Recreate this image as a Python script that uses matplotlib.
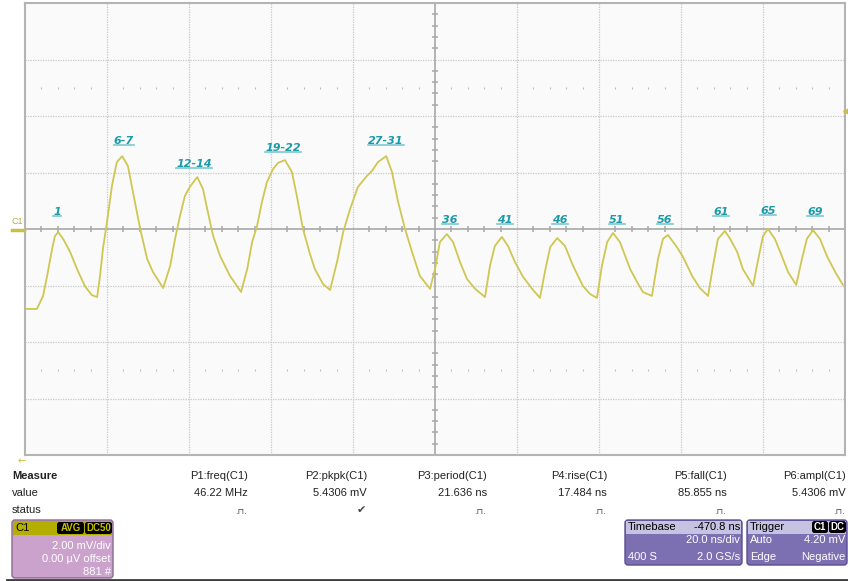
import numpy as np
import matplotlib
matplotlib.use('Agg')
from matplotlib import pyplot as plt
from matplotlib import patches, transforms
from matplotlib.lines import Line2D

W, H = 848, 581

# screen time (ns, 20 ns/div) and C1 voltage (mV, 2 mV/div)
trace_t = [0.0, 2.9, 4.4, 5.4, 6.6, 7.3, 8.1, 9.3, 11.0, 12.7, 14.6, 16.3, 17.6,
           18.3, 19.0, 20.0, 21.2, 22.4, 23.7, 25.1, 26.8, 28.1, 29.8, 31.2, 33.7,
           35.4, 36.6, 37.8, 39.0, 40.2, 42.0, 43.4, 44.6, 45.9, 47.6, 50.0, 52.7,
           54.2, 55.4, 56.6, 57.8, 59.0, 60.5, 61.7, 63.4, 65.1, 66.3, 67.8, 69.5,
           70.7, 72.7, 74.4, 76.1, 77.6, 79.3, 81.2, 83.4, 84.6, 86.1, 88.1, 89.5,
           91.0, 92.7, 94.4, 96.3, 98.8, 100.0, 101.2, 102.9, 104.4, 106.1, 107.8,
           109.8, 112.2, 113.4, 114.6, 116.3, 117.8, 119.5, 121.5, 123.7, 125.6,
           126.8, 128.1, 129.8, 131.7, 133.7, 136.1, 137.8, 139.5, 140.7, 142.0,
           143.4, 145.1, 147.6, 149.3, 150.7, 152.9, 154.4, 155.6, 156.8, 159.0,
           160.5, 162.7, 164.6, 166.6, 167.8, 169.0, 170.7, 172.0, 173.7, 175.1,
           177.6, 178.5, 180.0, 181.2, 182.9, 184.6, 186.1, 188.1, 189.5, 190.7,
           192.2, 193.9, 195.6, 197.6, 199.5]
trace_mv = [-2.83, -2.83, -2.37, -1.66, -0.71, -0.25, -0.11, -0.35, -0.81, -1.42,
            -2.02, -2.34, -2.41, -1.66, -0.71, 0.25, 1.52, 2.37, 2.58, 2.23, 0.96,
            0.0, -1.06, -1.52, -2.09, -1.31, -0.35, 0.46, 1.17, 1.49, 1.84, 1.42,
            0.60, -0.25, -0.96, -1.66, -2.23, -1.42, -0.46, 0.11, 0.96, 1.66, 2.12,
            2.34, 2.44, 2.02, 1.17, 0.0, -0.88, -1.42, -1.95, -2.16, -1.17, -0.11,
            0.71, 1.49, 1.88, 2.05, 2.37, 2.58, 2.02, 0.96, 0.0, -0.81, -1.66,
            -2.12, -1.42, -0.46, -0.18, -0.46, -1.17, -1.77, -2.12, -2.41, -1.31,
            -0.60, -0.28, -0.60, -1.17, -1.70, -2.12, -2.44, -1.52, -0.64, -0.32,
            -0.60, -1.31, -2.02, -2.30, -2.44, -1.31, -0.46, -0.14, -0.46, -1.42,
            -1.88, -2.23, -2.37, -1.06, -0.35, -0.21, -0.64, -0.99, -1.66, -2.09,
            -2.37, -1.31, -0.35, -0.07, -0.35, -0.81, -1.42, -2.02, -1.31, -0.25,
            0.0, -0.35, -0.96, -1.52, -1.98, -1.06, -0.35, -0.04, -0.35, -0.96,
            -1.52, -1.98]

peak_labels = ['1', '6-7', '12-14', '19-22', '27-31', '36', '41', '46', '51',
               '56', '61', '65', '69']
peak_t = [7.8, 24.1, 41.2, 62.9, 88.0, 103.7, 117.1, 130.5, 144.4, 156.1,
          169.8, 181.2, 192.7]
peak_mv = [0.60, 3.10, 2.30, 2.87, 3.10, 0.32, 0.32, 0.32, 0.32, 0.32,
           0.60, 0.64, 0.60]

meas_names = ['P1:freq(C1)', 'P2:pkpk(C1)', 'P3:period(C1)', 'P4:rise(C1)',
              'P5:fall(C1)', 'P6:ampl(C1)']
meas_values = ['46.22 MHz', '5.4306 mV', '21.636 ns', '17.484 ns', '85.855 ns',
               '5.4306 mV']
meas_status = ['.⊓.', '✔', '.⊓.', '.⊓.', '.⊓.', '.⊓.']

plt.rcParams['font.family'] = ['Liberation Sans', 'DejaVu Sans']

fig = plt.figure(figsize=(W / 100, H / 100), dpi=100, facecolor='white')
# pixel coordinates, origin top-left
pix = transforms.Affine2D().scale(1 / W, -1 / H).translate(0, 1) + fig.transFigure

ax = fig.add_axes([25 / W, (H - 455) / H, 820 / W, 452 / H])
ax.set_facecolor('#fafafa')
ax.set_xlim(0, 200)
ax.set_ylim(-8, 8)
ax.set_xticks([]), ax.set_yticks([])
for s in ax.spines.values():
    s.set_color('#b4b4b4')
    s.set_linewidth(1.5)

# graticule
for x in np.arange(20, 200, 20):
    if x != 100:
        ax.axvline(x, color='#c8c8c8', lw=0.9, ls=(0, (1, 1)), zorder=1)
for y in np.arange(-6, 8, 2):
    if y != 0:
        ax.axhline(y, color='#c8c8c8', lw=0.9, ls=(0, (1, 1)), zorder=1)
ax.axvline(100, color='#a8a8a8', lw=1.2, zorder=1)
ax.axhline(0, color='#a8a8a8', lw=1.2, zorder=1)

minor_t = [t for t in np.arange(4, 200, 4) if t % 20 != 0]
ax.plot(minor_t, np.zeros(len(minor_t)), ls='none', marker='|', ms=4,
        mew=1.1, color='#a8a8a8', zorder=1)
minor_v = [v for v in np.arange(-7.6, 8, 0.4) if abs(v % 2) > 0.05 and abs(v % 2 - 2) > 0.05]
ax.plot(np.full(len(minor_v), 100), minor_v, ls='none', marker='_', ms=4,
        mew=1.1, color='#a8a8a8', zorder=1)
for y in (5, -5):
    ax.plot(minor_t, np.full(len(minor_t), y), ls='none', marker='|', ms=2,
            mew=0.8, color='#bcbcbc', zorder=1)

ax.plot(trace_t, trace_mv, color='#cfc752', lw=1.3, zorder=3)

labels = []
for txt, t, v in zip(peak_labels, peak_t, peak_mv):
    labels.append(ax.text(t, v, txt, color='#1a9ba8', fontsize=8,
                          family='DejaVu Sans', weight='bold', style='italic',
                          ha='center', va='center', zorder=4))

# channel / trigger markers
fig.text(17, 222, 'C1', transform=pix, color='#b8b040', fontsize=6.5,
         ha='center', va='center')
fig.add_artist(Line2D([12, 24], [230, 230], transform=pix, color='#c8c040', lw=2.5))
fig.add_artist(Line2D([846], [111], transform=pix, marker='<', ms=4,
                      color='#c8c040', ls='none'))
fig.text(22, 461, '←', transform=pix, color='#c8c040', fontsize=7,
         family='DejaVu Sans', ha='center', va='center')

# measurement table
tcol = '#222222'
fig.text(12, 476, 'Measure', transform=pix, fontsize=8, weight='bold',
         color=tcol, va='center')
fig.text(12, 493, 'value', transform=pix, fontsize=8, color=tcol, va='center')
fig.text(12, 510, 'status', transform=pix, fontsize=8, color=tcol, va='center')
col_x = [248, 367, 487, 607, 727, 846]
for x, n, v, st in zip(col_x, meas_names, meas_values, meas_status):
    fig.text(x, 476, n, transform=pix, fontsize=8, color=tcol, ha='right', va='center')
    fig.text(x, 493, v, transform=pix, fontsize=8, color=tcol, ha='right', va='center')
    if st == '✔':
        fig.text(x - 6, 510, st, transform=pix, fontsize=8, color='#444444',
                 family='DejaVu Sans', ha='center', va='center')
    else:
        fig.text(x - 1, 511, st, transform=pix, fontsize=6, color='#444444',
                 family='DejaVu Sans', ha='right', va='center')


def box(x0, y0, x1, y1, color, edge):
    fig.add_artist(patches.FancyBboxPatch((x0, y0), x1 - x0, y1 - y0,
                   boxstyle='round,pad=0,rounding_size=3', transform=pix,
                   facecolor=color, edgecolor=edge, lw=1))


def tag(x0, x1, y, txt, fg):
    fig.add_artist(patches.FancyBboxPatch((x0, y - 6), x1 - x0, 12,
                   boxstyle='round,pad=0,rounding_size=2.5', transform=pix,
                   facecolor='black', edgecolor='none'))
    fig.text((x0 + x1) / 2, y, txt, transform=pix, fontsize=7, color=fg,
             weight='bold', ha='center', va='center')


# C1 descriptor box
box(12, 520, 113, 578, '#caa2cc', '#8c6a8c')
fig.add_artist(patches.Rectangle((13, 521), 99, 14, transform=pix,
                                 facecolor='#b4ae00', edgecolor='none'))
fig.text(15, 528, 'C1', transform=pix, fontsize=8, color='black', va='center')
tag(57, 84, 528, 'AVG', '#c8c000')
tag(85, 112, 528, 'DC50', '#c8c000')
for y, s in zip([546, 559, 572], ['2.00 mV/div', '0.00 µV offset', '881 #']):
    fig.text(111, y, s, transform=pix, fontsize=8, color='white', ha='right', va='center')

# timebase box
box(625, 520, 742, 565, '#7c70b2', '#5a4e90')
fig.add_artist(patches.Rectangle((626, 521), 115, 13, transform=pix,
                                 facecolor='#c6c2e2', edgecolor='none'))
fig.text(628, 527, 'Timebase', transform=pix, fontsize=8, color='black', va='center')
fig.text(740, 527, '-470.8 ns', transform=pix, fontsize=8, color='black',
         ha='right', va='center')
fig.text(740, 540, '20.0 ns/div', transform=pix, fontsize=8, color='white',
         ha='right', va='center')
fig.text(628, 557, '400 S', transform=pix, fontsize=8, color='white', va='center')
fig.text(740, 557, '2.0 GS/s', transform=pix, fontsize=8, color='white',
         ha='right', va='center')

# trigger box
box(747, 520, 847, 565, '#7c70b2', '#5a4e90')
fig.add_artist(patches.Rectangle((748, 521), 98, 13, transform=pix,
                                 facecolor='#c6c2e2', edgecolor='none'))
fig.text(750, 527, 'Trigger', transform=pix, fontsize=8, color='black', va='center')
tag(812, 828, 527, 'C1', 'white')
tag(829, 846, 527, 'DC', 'white')
fig.text(750, 540, 'Auto', transform=pix, fontsize=8, color='white', va='center')
fig.text(845, 540, '4.20 mV', transform=pix, fontsize=8, color='white',
         ha='right', va='center')
fig.text(750, 557, 'Edge', transform=pix, fontsize=8, color='white', va='center')
fig.text(845, 557, 'Negative', transform=pix, fontsize=8, color='white',
         ha='right', va='center')

fig.add_artist(Line2D([7, 848], [580, 580], transform=pix, color='#3c3c3c', lw=2))

# underline the peak labels
fig.canvas.draw()
for lab in labels:
    bb = lab.get_window_extent()
    fig.add_artist(Line2D([bb.x0, bb.x1], [bb.y0 + 1, bb.y0 + 1],
                          transform=transforms.IdentityTransform(),
                          color='#7cc8d0', lw=1.2))

fig.savefig('out.png', dpi=100, facecolor='white')
